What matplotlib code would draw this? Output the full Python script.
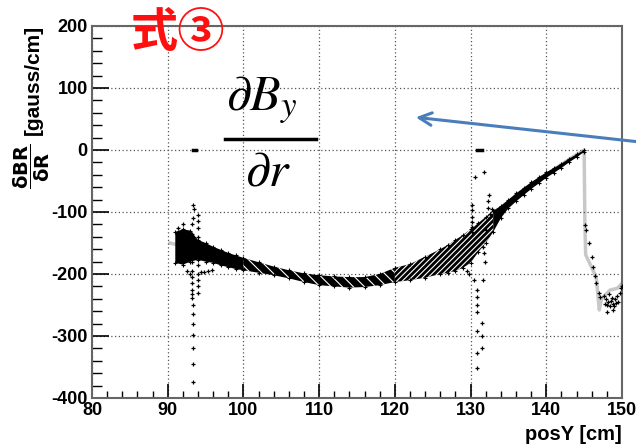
import numpy as np
import matplotlib
matplotlib.use('Agg')
import matplotlib.pyplot as plt
from matplotlib.ticker import MultipleLocator

plt.rcParams['font.family'] = ['Liberation Sans', 'DejaVu Sans']
plt.rcParams['axes.unicode_minus'] = False
plt.rcParams['hatch.linewidth'] = 0.8

# main band of dBR/dR vs posY: upper / lower edge
band_x = [91, 92, 93, 94, 95, 96, 97, 98, 99, 100, 102, 104, 106, 108, 110, 112, 114, 116,
          118, 120, 122, 124, 126, 127, 128, 129, 130, 131, 132, 133, 134, 135, 136, 137,
          138, 139, 140, 141, 142, 143, 144, 145]
band_up = [-132, -128, -130, -145, -150, -156, -161, -166, -170, -174, -181, -188, -194, -199,
           -202, -204, -205, -205, -200, -190, -184, -172, -160, -153, -145, -137, -128, -118,
           -108, -98, -90, -80, -70, -61, -52, -44, -36, -29, -22, -14, -7, 0]
band_lo = [-182, -185, -180, -177, -180, -182, -186, -189, -192, -194, -198, -202, -207, -213,
           -218, -220, -222, -221, -218, -213, -210, -206, -200, -198, -195, -190, -182, -165,
           -150, -132, -110, -94, -83, -73, -63, -54, -45, -37, -29, -20, -12, -3]

# scattered points outside the band
pts_x = [93.5, 93.4, 93.5, 93.4, 93.4, 93.4, 93.4, 93.4, 93.4, 93.4, 93.4,
         93.2, 93.2, 93.2, 93.2, 93.2, 93.2, 93.2, 93.2, 93.2, 93.2, 93.2,
         94.0, 94.0, 94.0, 94.0, 94.0, 94.0, 94.0, 94.0, 94.0, 94.0, 94.0,
         91.3, 92.0, 92.6, 92.9, 94.4, 94.8, 95.3, 95.8,
         130.2, 130.2, 130.2, 130.2, 130.2, 130.2, 130.6, 131.8, 132.4, 132.3, 132.3, 132.5,
         130.8, 130.8, 130.8, 130.8, 130.8, 130.8, 130.8, 131.5, 131.5, 131.5,
         131.6, 131.8, 132.1, 131.7, 131.9, 132.8, 133.2, 133.6, 129.8, 129.5, 130.5,
         145.1, 145.3, 145.7, 146.0, 146.2, 146.4, 146.6, 146.9, 147.1, 148.0, 148.8, 149.5,
         147.6, 147.9, 148.2, 148.5, 148.8, 149.1, 149.4, 149.7, 148.0, 148.4, 149.0,
         149.9, 147.7, 148.7, 148.3, 149.2, 150.0]
pts_y = [182, -88, -95, -110, -250, -265, -281, -299, -320, -345, -374,
         -120, -135, -150, -165, -180, -195, -205, -215, -225, -232, -239,
         -105, -115, -125, -140, -155, -170, -185, -200, -210, -220, -231,
         -125, -120, -195, -200, -197, -196, -195, -194,
         -89, -97, -108, -116, -124, -132, -43, -35, -73, -83, -93, -103,
         -226, -237, -250, -261, -292, -327, -352, -279, -300, -319,
         -156, -166, -129, -210, -180, -95, -110, -100, -200, -195, -210,
         -121, -129, -150, -172, -188, -204, -215, -231, -237, -261, -258, -245,
         -235, -240, -245, -243, -248, -240, -236, -230, -250, -252, -252,
         -222, -248, -238, -232, -246, -220]

# fitted curve (light grey)
fit_x = [90.3, 92, 95, 100, 105, 110, 115, 120, 125, 129.5, 133.5, 137, 140, 143, 145,
         145.1, 145.2, 146.6, 147.0, 147.3, 148.4, 149.4, 150]
fit_y = [-150, -155, -168, -184, -197, -206, -210, -204, -184, -156, -108, -68, -40, -15, 0,
         -118, -169, -205, -258, -240, -226, -223, -215]

# short flat segments at zero
dash_x = [[93.3, 93.7], [130.9, 131.5]]
dash_y = [[0, 0], [0, 0]]

fig = plt.figure(figsize=(6.36, 4.46), dpi=100)
ax = fig.add_axes([92/636, 1-398/446, 530/636, 372/446])

bx = np.array(band_x, dtype=float)
bu = np.array(band_up, dtype=float)
bl = np.array(band_lo, dtype=float)

ax.plot(fit_x, fit_y, color='#c8c8c8', lw=2.5, zorder=1)

m1 = bx <= 100
ax.fill_between(bx[m1], bl[m1], bu[m1], facecolor='black', edgecolor='none', zorder=2)
m2 = (bx >= 100) & (bx <= 120)
ax.fill_between(bx[m2], bl[m2], bu[m2], facecolor='black', edgecolor='white',
                hatch='\\\\\\', lw=0, zorder=2)
m3 = (bx >= 120) & (bx <= 133)
ax.fill_between(bx[m3], bl[m3], bu[m3], facecolor='black', edgecolor='white',
                hatch='//////', lw=0, zorder=2)
m4 = bx >= 133
ax.fill_between(bx[m4], bl[m4], bu[m4], facecolor='black', edgecolor='none', zorder=2)
ax.plot(bx, bu, '+', color='black', ms=3, mew=0.8, zorder=3)
ax.plot(bx, bl, '+', color='black', ms=3, mew=0.8, zorder=3)

ax.plot(pts_x, pts_y, '+', color='black', ms=3.5, mew=0.9, zorder=3)
for dx, dy in zip(dash_x, dash_y):
    ax.plot(dx, dy, color='black', lw=2.5, zorder=3)

ax.set_xlim(80, 150)
ax.set_ylim(-400, 200)
ax.xaxis.set_major_locator(MultipleLocator(10))
ax.xaxis.set_minor_locator(MultipleLocator(2))
ax.yaxis.set_major_locator(MultipleLocator(100))
ax.yaxis.set_minor_locator(MultipleLocator(20))
ax.tick_params(which='major', direction='in', length=12, width=1.2, labelsize=13, pad=3,
               top=False, right=False)
ax.tick_params(which='minor', direction='in', length=7, width=1.0, top=False, right=False)
ax.tick_params(axis='x', which='major', length=10)
ax.tick_params(axis='x', which='minor', length=5)
for lab in ax.get_xticklabels() + ax.get_yticklabels():
    lab.set_fontweight('bold')
ax.grid(True, which='major', color='#555555', linestyle=(0, (1, 2)), lw=0.9)
for s in ax.spines.values():
    s.set_color('#666666')
    s.set_linewidth(1.5)

ax.set_xlabel('posY [cm]', fontsize=14.5, fontweight='bold', loc='right', labelpad=4)
# y label in two pieces: unit text and the fraction
fig.text(33/636, 1-25/446, '[gauss/cm]', rotation=90, fontsize=15, weight='bold',
         family='Liberation Sans', ha='center', va='top')
fig.text(32/636, 1-166/446, r'$\mathbf{\dfrac{\delta BR}{\delta R}}$', rotation=90,
         fontsize=14, ha='center', va='center', math_fontfamily='dejavusans')

# annotations
fig.text(178/636, 1-33/446, '式③', color='#ff1010', fontsize=34, fontweight='bold',
         ha='center', va='center', family=['Noto Sans CJK JP', 'DejaVu Sans'])
fig.text(262/636, 1-100/446, r'$\partial B_y$', fontsize=36, ha='center', va='center',
         math_fontfamily='stix')
fig.add_artist(plt.Line2D([225/636, 316/636], [1-139/446, 1-139/446], color='black', lw=2.5))
fig.text(268/636, 1-172/446, r'$\partial r$', fontsize=36, ha='center', va='center',
         math_fontfamily='stix')
ax.annotate('', xy=(413/636, 1-117/446), xycoords='figure fraction',
            xytext=(640/636, 1-142/446), textcoords='figure fraction',
            arrowprops=dict(arrowstyle='->,head_length=0.9,head_width=0.45',
                            color='#4a7ebb', lw=2.2), annotation_clip=False)

fig.savefig('out.png', dpi=100)
